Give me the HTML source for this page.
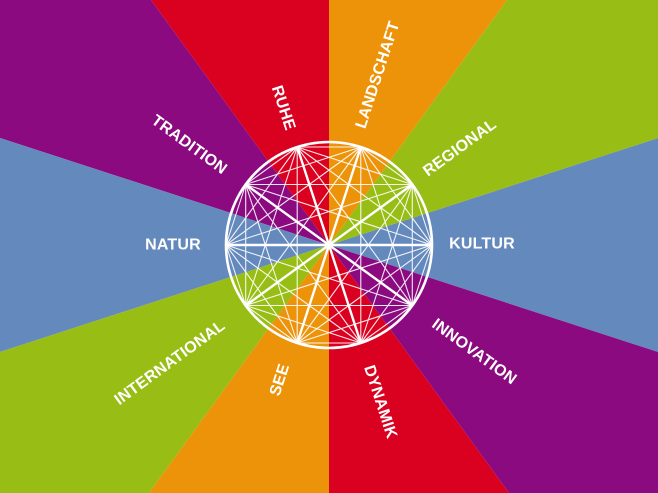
<!DOCTYPE html>
<html><head><meta charset="utf-8"><style>
html,body{margin:0;padding:0;overflow:hidden;background:#fff;width:658px;height:493px}
svg{display:block;overflow:hidden}
text{font-family:"Liberation Sans",sans-serif;font-size:16px;font-weight:600;fill:#fff;text-anchor:middle;dominant-baseline:central;letter-spacing:0.2px}
</style></head><body>
<svg width="658" height="493" viewBox="0 0 658 493" xmlns="http://www.w3.org/2000/svg">
<g>
<polygon points="329,245 658,352 658,138" fill="#6489bd"/>
<polygon points="329,245 658,138 658,0 507,0" fill="#98bd14"/>
<polygon points="329,245 507,0 329,0" fill="#ed930a"/>
<polygon points="329,245 329,0 151,0" fill="#da0020"/>
<polygon points="329,245 151,0 0,0 0,138" fill="#8c0a80"/>
<polygon points="329,245 0,138 0,352" fill="#6489bd"/>
<polygon points="329,245 0,352 0,493 149,493" fill="#98bd14"/>
<polygon points="329,245 149,493 329,493" fill="#ed930a"/>
<polygon points="329,245 329,493 509,493" fill="#da0020"/>
<polygon points="329,245 509,493 658,493 658,352" fill="#8c0a80"/>
</g>
<path fill="none" stroke="#fff" stroke-width="1.1" stroke-opacity="0.9" d="
M432,245L412.3,184.5 M432,245L360.8,147 M432,245L297.2,147 M432,245L245.7,184.5 M432,245L245.7,305.5 M432,245L297.2,343 M432,245L360.8,343 M432,245L412.3,305.5
M412.3,184.5L360.8,147 M412.3,184.5L297.2,147 M412.3,184.5L245.7,184.5 M412.3,184.5L226,245 M412.3,184.5L297.2,343 M412.3,184.5L360.8,343 M412.3,184.5L412.3,305.5
M360.8,147L297.2,147 M360.8,147L245.7,184.5 M360.8,147L226,245 M360.8,147L245.7,305.5 M360.8,147L360.8,343 M360.8,147L412.3,305.5
M297.2,147L245.7,184.5 M297.2,147L226,245 M297.2,147L245.7,305.5 M297.2,147L297.2,343 M297.2,147L412.3,305.5
M245.7,184.5L226,245 M245.7,184.5L245.7,305.5 M245.7,184.5L297.2,343 M245.7,184.5L360.8,343
M226,245L245.7,305.5 M226,245L297.2,343 M226,245L360.8,343 M226,245L412.3,305.5
M245.7,305.5L297.2,343 M245.7,305.5L360.8,343 M245.7,305.5L412.3,305.5
M297.2,343L360.8,343 M297.2,343L412.3,305.5
M360.8,343L412.3,305.5"/>
<path fill="none" stroke="#fff" stroke-width="2.4" d="M432,245L226,245 M412.3,184.5L245.7,305.5 M360.8,147L297.2,343 M297.2,147L360.8,343 M245.7,184.5L412.3,305.5"/>
<circle cx="329" cy="245" r="103" fill="none" stroke="#fff" stroke-width="2.6"/>
<text transform="translate(283,108) rotate(72)">RUHE</text>
<text transform="translate(378,75) rotate(-72)">LANDSCHAFT</text>
<text transform="translate(189,145) rotate(36)">TRADITION</text>
<text transform="translate(460,148) rotate(-36)">REGIONAL</text>
<text transform="translate(173,245)">NATUR</text>
<text transform="translate(482,244)">KULTUR</text>
<text transform="translate(170,363) rotate(-36)">INTERNATIONAL</text>
<text transform="translate(280,380) rotate(-72)">SEE</text>
<text transform="translate(474,352) rotate(36)">INNOVATION</text>
<text transform="translate(380,402) rotate(72)">DYNAMIK</text>
</svg>
</body></html>
